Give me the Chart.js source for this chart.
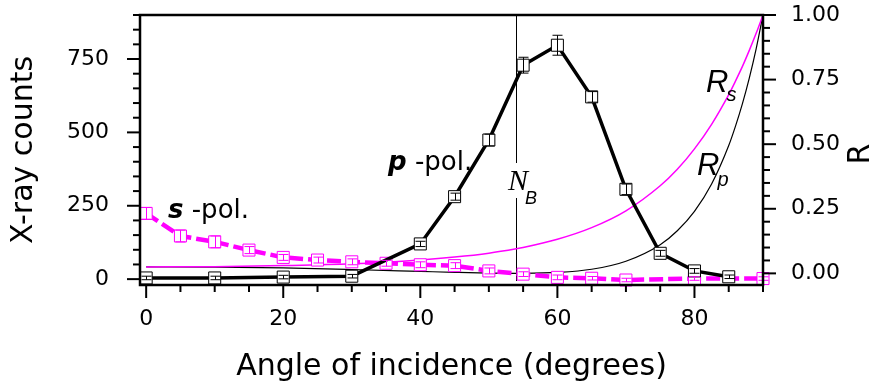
<!DOCTYPE html>
<html>
<head>
<meta charset="utf-8">
<script src="https://cdn.jsdelivr.net/npm/chart.js@4.4.1/dist/chart.umd.min.js"></script>
<style>
  html, body { margin: 0; padding: 0; background: #fff; }
  #wrap { width: 876px; height: 392px; }
</style>
</head>
<body>
<div id="wrap"><canvas id="chart" width="876" height="392"></canvas></div>
<script>
// p-polarised counts (left axis)
const pAngles = [0, 10, 20, 30, 40, 45, 50, 55, 60, 65, 70, 75, 80, 85];
const pCounts = [4, 4, 7, 10, 120, 281, 474, 729, 797, 621, 306, 88, 28, 8];
const pErrors = [6, 6, 6, 6, 9, 12, 20, 27, 34, 18, 18, 10, 8, 6];

// s-polarised counts (left axis)
const sAngles = [0, 5, 10, 15, 20, 25, 30, 35, 40, 45, 50, 55, 60, 65, 70, 80, 90];
const sCounts = [224, 147, 127, 99, 74, 65, 59, 54, 49, 46, 28, 17, 6, 3, -3, 2, 2];
const sErrors = [20, 20, 20, 12, 10, 10, 10, 10, 10, 10, 10, 8, 8, 6, 6, 6, 6];

// reflectivity curves (right axis)
const rAngles = [0, 10, 20, 30, 40, 45, 50, 54, 55, 60, 65, 70, 75, 77.5, 80, 82.5, 85, 86, 87, 88, 89, 90];
const rsValues = [0.025, 0.026, 0.030, 0.037, 0.052, 0.063, 0.078, 0.095, 0.100, 0.132, 0.177, 0.242, 0.339, 0.403, 0.482, 0.577, 0.692, 0.745, 0.801, 0.863, 0.929, 1.0];
const rpValues = [0.025, 0.024, 0.021, 0.015, 0.0077, 0.0040, 0.0010, 0.0, 0.0001, 0.0037, 0.016, 0.047, 0.111, 0.165, 0.240, 0.346, 0.495, 0.571, 0.657, 0.756, 0.869, 1.0];

const xMajor = [0, 20, 40, 60, 80];
const countMajor = [0, 250, 500, 750];
const rMajor = [0, 0.25, 0.5, 0.75, 1.0];
const brewsterAngle = 54;

const MAGENTA = '#ff00ff';
Chart.defaults.font.family = '"DejaVu Sans", sans-serif';
Chart.defaults.color = '#000';

const zip = (xs, ys) => xs.map((x, i) => ({ x: x, y: ys[i] }));

function seg(ctx, x1, y1, x2, y2) {
  ctx.beginPath();
  ctx.moveTo(x1, y1);
  ctx.lineTo(x2, y2);
  ctx.stroke();
}

function richText(ctx, parts, x, y) {
  parts.forEach(([txt, font, dx, dy]) => {
    ctx.font = font;
    ctx.fillText(txt, x + (dx || 0), y + (dy || 0));
    x += ctx.measureText(txt).width + (dx || 0);
  });
}

// the scales' own label padding would push the plot down; keep it fixed
function noPad(s) {
  s.paddingTop = 0;
  s.paddingBottom = 0;
  s.paddingLeft = 0;
  s.paddingRight = 0;
}

const decor = {
  id: 'decor',
  beforeDatasetsDraw(chart) {
    const { ctx, chartArea: a, scales } = chart;
    const bx = Math.round(scales.x.getPixelForValue(brewsterAngle)) + 0.5;
    ctx.save();
    ctx.strokeStyle = '#000';
    ctx.lineWidth = 1;
    seg(ctx, bx, a.top, bx, 163);
    seg(ctx, bx, 198, bx, a.bottom - 4);
    ctx.restore();
  },
  afterDatasetsDraw(chart) {
    const ctx = chart.ctx;
    const y = chart.scales.y;
    [[0, pErrors, '#000'], [1, sErrors, MAGENTA]].forEach(([i, errs, col]) => {
      const meta = chart.getDatasetMeta(i);
      const ds = chart.data.datasets[i];
      ctx.save();
      ctx.strokeStyle = col;
      ctx.lineWidth = 1;
      meta.data.forEach((pt, k) => {
        const v = ds.data[k].y;
        const top = y.getPixelForValue(v + errs[k]);
        const bot = y.getPixelForValue(v - errs[k]);
        const x = Math.round(pt.x) + 0.5;
        seg(ctx, x, top, x, bot);
        seg(ctx, x - 5, top, x + 5, top);
        seg(ctx, x - 5, bot, x + 5, bot);
      });
      ctx.restore();
    });
  },
  afterDraw(chart) {
    const { ctx, chartArea: a, scales } = chart;
    ctx.save();
    ctx.strokeStyle = '#000';
    ctx.lineWidth = 2.5;
    ctx.strokeRect(a.left, a.top, a.right - a.left, a.bottom - a.top);

    // ticks, major and minor
    ctx.lineWidth = 2;
    for (let v = 0; v <= 90; v += 5) {
      const px = scales.x.getPixelForValue(v);
      seg(ctx, px, a.bottom, px, a.bottom + (v % 20 === 0 ? 13 : 7));
    }
    for (let v = 0; v <= 900; v += 50) {
      const py = scales.y.getPixelForValue(v);
      seg(ctx, a.left, py, a.left - (v % 250 === 0 ? 13 : 7), py);
    }
    for (let k = 0; k <= 20; k++) {
      const py = scales.y2.getPixelForValue(k * 0.05);
      seg(ctx, a.right, py, a.right + (k % 5 === 0 ? 13 : 7), py);
    }

    // labels inside the plot
    ctx.fillStyle = '#000';
    ctx.textBaseline = 'alphabetic';
    ctx.textAlign = 'left';
    richText(ctx, [['s', 'italic bold 26px "DejaVu Sans"'], [' -pol.', '26px "DejaVu Sans"']], 168, 218);
    richText(ctx, [['p', 'italic bold 26px "DejaVu Sans"'], [' -pol.', '26px "DejaVu Sans"']], 388, 170);
    richText(ctx, [['N', 'italic 30px "Liberation Serif"'], ['B', 'italic 18px "Liberation Sans"', -3, 14]], 508, 190);
    richText(ctx, [['R', 'italic 31px "Liberation Sans"'], ['s', 'italic 20px "Liberation Sans"', -2, 9]], 706, 92);
    richText(ctx, [['R', 'italic 31px "Liberation Sans"'], ['p', 'italic 20px "Liberation Sans"', -2, 11]], 697, 175);

    // right axis title, reads bottom to top
    ctx.translate(861, 154);
    ctx.rotate(-Math.PI / 2);
    ctx.font = '30px "DejaVu Sans"';
    ctx.textAlign = 'center';
    ctx.textBaseline = 'middle';
    ctx.fillText('R', 0, 0);
    ctx.restore();
  }
};

const tickFont = { size: 22 };
const titleFont = { size: 30 };

new Chart(document.getElementById('chart'), {
  type: 'line',
  data: {
    datasets: [
      {
        label: 'p-pol.',
        data: zip(pAngles, pCounts),
        yAxisID: 'y',
        borderColor: '#000',
        borderWidth: 3.5,
        pointStyle: 'rect',
        pointRadius: 8.5,
        pointBorderWidth: 1,
        pointBorderColor: '#000',
        pointBackgroundColor: '#fff',
        tension: 0,
        clip: false,
        order: 1
      },
      {
        label: 's-pol.',
        data: zip(sAngles, sCounts),
        yAxisID: 'y',
        borderColor: MAGENTA,
        borderWidth: 4.5,
        borderDash: [14, 5],
        pointStyle: 'rect',
        pointRadius: 8.5,
        pointBorderWidth: 1,
        pointBorderColor: MAGENTA,
        pointBackgroundColor: '#fff',
        tension: 0,
        clip: false,
        order: 2
      },
      {
        label: 'Rs',
        data: zip(rAngles, rsValues),
        yAxisID: 'y2',
        borderColor: MAGENTA,
        borderWidth: 1.5,
        pointRadius: 0,
        cubicInterpolationMode: 'monotone',
        order: 3
      },
      {
        label: 'Rp',
        data: zip(rAngles, rpValues),
        yAxisID: 'y2',
        borderColor: '#000',
        borderWidth: 1.2,
        pointRadius: 0,
        cubicInterpolationMode: 'monotone',
        order: 4
      }
    ]
  },
  options: {
    responsive: false,
    animation: false,
    events: [],
    layout: { padding: { top: 15, left: 0, right: 0, bottom: 0 } },
    plugins: {
      legend: { display: false },
      tooltip: { enabled: false }
    },
    scales: {
      x: {
        type: 'linear',
        min: -0.9,
        max: 90,
        grid: { display: false },
        border: { display: false },
        afterBuildTicks: s => { s.ticks = xMajor.map(v => ({ value: v })); },
        afterFit: s => { s.height = 107; noPad(s); },
        ticks: { font: tickFont, color: '#000', padding: 13, maxRotation: 0, autoSkip: false },
        title: {
          display: true,
          text: 'Angle of incidence (degrees)',
          font: titleFont,
          color: '#000',
          padding: { top: 0, bottom: 7 }
        }
      },
      y: {
        type: 'linear',
        position: 'left',
        min: -20,
        max: 900,
        grid: { display: false },
        border: { display: false },
        afterBuildTicks: s => { s.ticks = countMajor.map(v => ({ value: v })); },
        afterFit: s => { s.width = 140; noPad(s); },
        ticks: { font: tickFont, color: '#000', padding: 23, autoSkip: false },
        title: {
          display: true,
          text: 'X-ray counts',
          font: titleFont,
          color: '#000',
          padding: { top: 6, bottom: 0 }
        }
      },
      y2: {
        type: 'linear',
        position: 'right',
        min: -0.045,
        max: 1.0,
        grid: { display: false },
        border: { display: false },
        afterBuildTicks: s => { s.ticks = rMajor.map(v => ({ value: v })); },
        afterFit: s => { s.width = 113; noPad(s); },
        ticks: {
          font: tickFont,
          color: '#000',
          padding: 20,
          autoSkip: false,
          callback: v => Number(v).toFixed(2)
        }
      }
    }
  },
  plugins: [decor]
});
</script>
</body>
</html>
